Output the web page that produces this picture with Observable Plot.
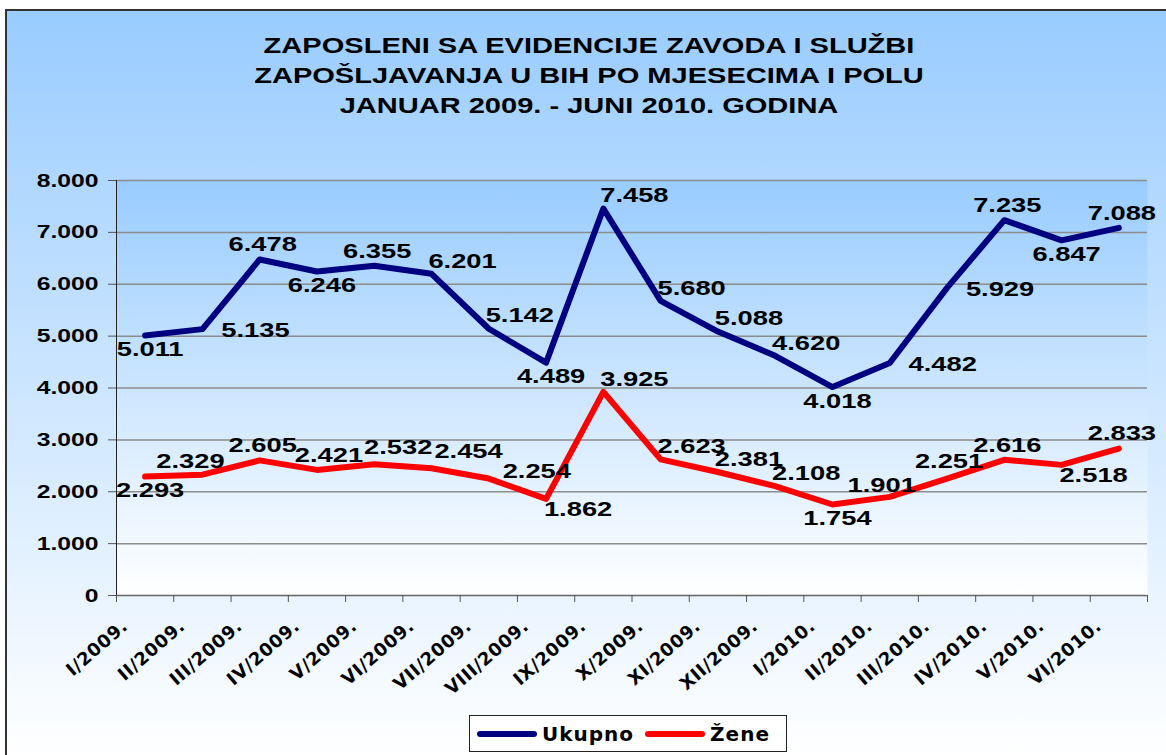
<!DOCTYPE html>
<html>
<head>
<meta charset="utf-8">
<script src="https://cdn.jsdelivr.net/npm/d3@7"></script>
<script src="https://cdn.jsdelivr.net/npm/@observablehq/plot@0.6"></script>
<style>
  body { margin:0; width:1166px; height:755px; overflow:hidden; background:#fff; position:relative; font-family:"DejaVu Sans", sans-serif; }
  #frame { position:absolute; left:5px; top:9px; width:1180px; height:770px; border:2px solid #333; background:linear-gradient(#99ccff, #ffffff 97%); }
  #title { position:absolute; left:0; top:31px; width:1178px; text-align:center; font-family:"Liberation Sans", Arial, sans-serif; font-weight:bold; font-size:22px; line-height:30px; color:#000; transform:scaleX(1.32); transform-origin:589px 0; }
  #chart { position:absolute; left:0; top:150px; }
  #chart svg { overflow:visible; }
  #chart g[aria-label="text"] text, #chart g[aria-label="y-axis tick label"] text { font-family:"Liberation Sans", Arial, sans-serif; }
  #chart g[aria-label="x-axis tick label"] text { letter-spacing:0.6px; }
  #legend { position:absolute; left:469px; top:715px; width:318px; height:37px; border:1.5px solid #222; background:#fff; display:flex; align-items:center; font-weight:bold; font-size:20px; letter-spacing:1px; color:#000; box-sizing:border-box; padding-left:7px; }
  .sw { width:60px; height:6px; border-radius:3px; margin-right:5px; }
</style>
</head>
<body>
<div id="frame"></div>
<div id="title">ZAPOSLENI SA EVIDENCIJE ZAVODA I SLUŽBI<br>ZAPOŠLJAVANJA U BIH PO MJESECIMA I POLU<br>JANUAR 2009. - JUNI 2010. GODINA</div>
<div id="chart"></div>
<div id="legend"></div>
<script>
const months = ["I/2009.","II/2009.","III/2009.","IV/2009.","V/2009.","VI/2009.","VII/2009.","VIII/2009.","IX/2009.","X/2009.","XI/2009.","XII/2009.","I/2010.","II/2010.","III/2010.","IV/2010.","V/2010.","VI/2010."];
const ukupno = [5011,5135,6478,6246,6355,6201,5142,4489,7458,5680,5088,4620,4018,4482,5929,7235,6847,7088];
const zene = [2293,2329,2605,2421,2532,2454,2254,1862,3925,2623,2381,2108,1754,1901,2251,2616,2518,2833];
const yTicks = [0,1000,2000,3000,4000,5000,6000,7000,8000];
const seriesNames = ["Ukupno","Žene"];
const seriesColors = ["#000080","#ff0000"];

// label placement (layout only): which side of the point each value label sits on
const ukupnoPlace = ["B","R","A","B","A","AR","AR","B","AR","AR","AR","AR","B","R","R","A","B","A"];
const zenePlace   = ["B","AL","A","AS","AM","AF","RL","BR","AR","AR","AR","AR","B","AW","AN","A","BR","A"];
const placeOffsets = {
  B:[5,14], A:[3,-15], R:[53,1], AR:[31,-13], AL:[-12,-13], BR:[32,10],
  AS:[12,-15], AM:[24,-17], AF:[37,-17], RL:[48,-7], AW:[-8,-12], AN:[2,-17]
};

const fmt = d3.formatLocale({decimal:",", thousands:".", grouping:[3], currency:["",""]}).format(",d");
const rows = months.map((m,i) => ({i, month:m, ukupno:ukupno[i], zene:zene[i]}));
const boundaries = months.map((_,i) => i - 0.5).concat([months.length - 0.5]);
const xDomain = [-0.5, months.length - 0.5];

function labelMarks(key, places) {
  return Object.keys(placeOffsets).map(p => Plot.text(rows.filter((d,i) => places[i] === p), {
    x:"i", y:key, text:d => fmt(d[key]), dx:placeOffsets[p][0], dy:placeOffsets[p][1],
    fontSize:21, fontWeight:"bold", fill:"#000"
  }));
}

const chart = Plot.plot({
  width:1166, height:560,
  marginLeft:116, marginRight:19, marginTop:30, marginBottom:115,
  x:{type:"linear", domain:xDomain},
  y:{domain:[0,8000]},
  style:{background:"transparent", fontFamily:"DejaVu Sans", color:"#000"},
  marks:[
    Plot.frame({fill:"url(#plotGrad)", stroke:"none"}),
    Plot.ruleY(yTicks.filter(d => d > 0), {stroke:"#8c8c8c", strokeWidth:1.5}),
    Plot.ruleX([xDomain[0]], {stroke:"#222", strokeWidth:1}),
    Plot.ruleY([0], {stroke:"#666", strokeWidth:1.5}),
    Plot.axisY({ticks:yTicks, tickFormat:fmt, tickSize:8, tickPadding:10, fontSize:19, fontWeight:"bold", stroke:"#555", label:null}),
    Plot.axisX({ticks:boundaries, tickFormat:() => "", tickSize:7, stroke:"#555", label:null}),
    Plot.axisX({ticks:months.map((_,i) => i), tickFormat:i => months[i], tickSize:0, tickPadding:3, tickRotate:-41, dx:-20, dy:25, fontSize:18, fontWeight:"bold", label:null}),
    Plot.line(rows, {x:"i", y:"ukupno", stroke:seriesColors[0], strokeWidth:6, strokeLinejoin:"round", strokeLinecap:"round"}),
    Plot.line(rows, {x:"i", y:"zene", stroke:seriesColors[1], strokeWidth:6, strokeLinejoin:"round", strokeLinecap:"round"}),
    ...labelMarks("ukupno", ukupnoPlace),
    ...labelMarks("zene", zenePlace)
  ]
});

const ns = "http://www.w3.org/2000/svg";
const defs = document.createElementNS(ns, "defs");
defs.innerHTML = '<linearGradient id="plotGrad" x1="0" y1="0" x2="0" y2="1"><stop offset="0" stop-color="#99ccff"/><stop offset="1" stop-color="#ffffff"/></linearGradient>';
chart.insertBefore(defs, chart.firstChild);

// widen the Arial-style numbers horizontally, like the stretched original
chart.querySelectorAll('g[aria-label="text"] text, g[aria-label="y-axis tick label"] text').forEach(t => {
  const tr = t.getAttribute("transform");
  if (tr) t.setAttribute("transform", tr + " scale(1.3,1)");
});
document.getElementById("chart").appendChild(chart);

const legend = document.getElementById("legend");
seriesNames.forEach((name, k) => {
  const sw = document.createElement("div");
  sw.className = "sw";
  sw.style.background = seriesColors[k];
  const lb = document.createElement("span");
  lb.textContent = name;
  lb.style.marginRight = "11px";
  legend.appendChild(sw);
  legend.appendChild(lb);
});
</script>
</body>
</html>
